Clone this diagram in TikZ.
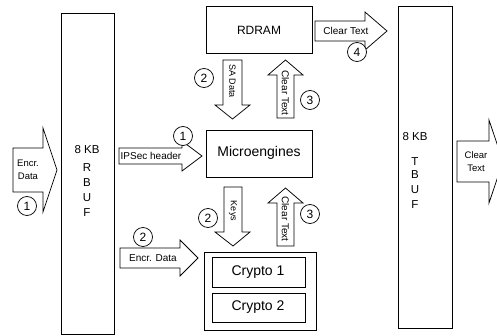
\documentclass[tikz,border=0pt]{standalone}
\usepackage{fontspec}
\setmainfont{Liberation Sans}
\begin{document}
\begin{tikzpicture}[x=1pt,y=-1pt, line width=0.75pt,
  boxn/.style={draw, inner sep=0pt, anchor=north west},
  blk/.style={draw, fill=white, line join=miter},
  num/.style={draw, circle, minimum size=19pt, inner sep=0pt, fill=white, font=\fontsize{12}{12}\selectfont},
  lbl/.style={font=\fontsize{10}{11}\selectfont, inner sep=0pt, align=center},
  vlbl/.style={font=\fontsize{9}{10}\selectfont, inner sep=0pt, rotate=-90},
  buf/.style={font=\fontsize{11.5}{12}\selectfont, inner sep=0pt},
  big/.style={font=\fontsize{14}{15}\selectfont, inner sep=0pt}
  ]
\useasboundingbox (0,0) rectangle (497,336);
\clip (0,0) rectangle (497,336);

% buffers
\node[boxn, minimum width=53pt, minimum height=321pt] (rbuf) at (61,13) {};
\node[boxn, minimum width=54pt, minimum height=322pt] (tbuf) at (398,6) {};
\node[buf] (r8) at (87,150) {8 KB};
\node[buf] (rr) at (87,168) {R};
\node[buf] (rb) at (87,183) {B};
\node[buf] (ru) at (87,198) {U};
\node[buf] (rf) at (87,213) {F};
\node[buf] (t8) at (415,137) {8 KB};
\node[buf] (tt) at (415,162) {T};
\node[buf] (tb) at (415,175) {B};
\node[buf] (tu) at (415,190) {U};
\node[buf] (tf) at (415,205) {F};

% boxes
\node[boxn, minimum width=106pt, minimum height=47pt] (rdram) at (206,6) {};
\node[font=\fontsize{12}{12}\selectfont, inner sep=0pt] (rdramt) at (259,30) {RDRAM};
\node[boxn, minimum width=106pt, minimum height=47pt] (micro) at (206,130) {};
\node[big] (microt) at (259,153) {Microengines};
\node[boxn, minimum width=112pt, minimum height=78pt] (crypto) at (204,252) {};
\node[boxn, minimum width=93pt, minimum height=30pt] (c1) at (212,257) {};
\node[boxn, minimum width=93pt, minimum height=29pt] (c2) at (212,293) {};
\node[big] (c1t) at (258,272) {Crypto 1};
\node[big] (c2t) at (258,307.5) {Crypto 2};

% left input arrow
\draw[blk] (13,148) -- (43,148) -- (43,128) -- (57,170) -- (43,212) -- (43,192) -- (13,192) -- cycle;
\node[lbl, font=\fontsize{9.5}{13}\selectfont] (inl) at (28,170) {Encr.\\Data};
\node[num] (n1a) at (27,206) {1};

% right output arrow
\draw[blk] (457,141) -- (489,141) -- (489,120) -- (503,161.5) -- (489,203) -- (489,182) -- (457,182) -- cycle;
\node[lbl, font=\fontsize{9.5}{13}\selectfont] (outl) at (476,162) {Clear\\Text};

% RDRAM -> TBUF clear text
\draw[blk] (315,21) -- (365,21) -- (365,12) -- (387,31) -- (365,50) -- (365,41) -- (315,41) -- cycle;
\node[lbl] (ct4) at (346,31) {Clear Text};
\node[num] (n4) at (357,52) {4};

% IPSec header
\draw[blk] (119,148) -- (182,148) -- (182,141) -- (202,156) -- (182,171) -- (182,164) -- (119,164) -- cycle;
\node[lbl] (ipsec) at (151,156) {IPSec header};
\node[num] (n1b) at (183,136) {1};

% Encr. Data to crypto
\draw[blk] (120,248) -- (180,248) -- (180,240) -- (198,258) -- (180,276) -- (180,268) -- (120,268) -- cycle;
\node[lbl] (encr2) at (153,258) {Encr. Data};
\node[num] (n2c) at (143,237) {2};

% SA Data down
\draw[blk] (223,60) -- (242,60) -- (242,105) -- (250,105) -- (232.5,119) -- (215,105) -- (223,105) -- cycle;
\node[vlbl] (sad) at (232.5,81) {SA Data};
\node[num] (n2a) at (204,78) {2};

% Clear text up (upper)
\draw[blk] (277,118) -- (294,118) -- (294,75) -- (303,75) -- (285.5,60) -- (268,75) -- (277,75) -- cycle;
\node[vlbl, font=\fontsize{10}{10}\selectfont] (ct3a) at (285.5,93) {Clear Text};
\node[num] (n3a) at (310,100) {3};

% Keys down
\draw[blk] (224,187) -- (242,187) -- (242,232) -- (250,232) -- (233,246) -- (215,232) -- (224,232) -- cycle;
\node[vlbl] (keys) at (233,211) {Keys};
\node[num] (n2b) at (208,218) {2};

% Clear text up (lower)
\draw[blk] (277,246) -- (294,246) -- (294,203) -- (303,203) -- (285.5,188) -- (268,203) -- (277,203) -- cycle;
\node[vlbl, font=\fontsize{10}{10}\selectfont] (ct3b) at (285.5,219) {Clear Text};
\node[num] (n3b) at (310,214) {3};
\end{tikzpicture}
\end{document}
